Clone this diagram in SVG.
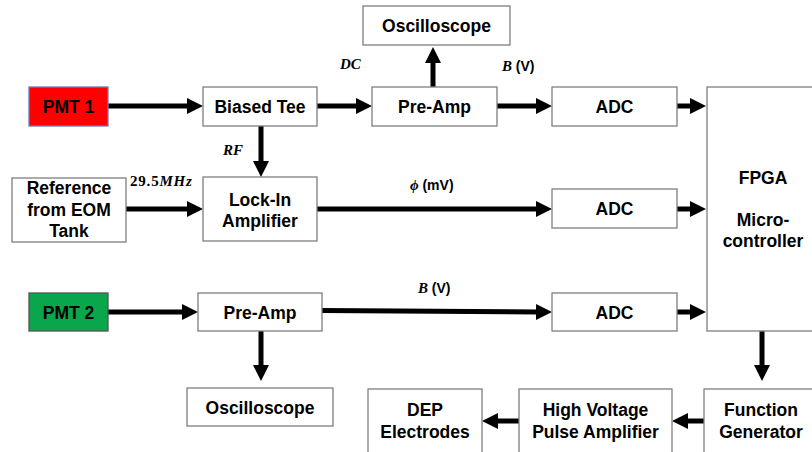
<svg xmlns="http://www.w3.org/2000/svg" width="812" height="452" viewBox="0 0 812 452">
<style>
.box{fill:#fff;stroke:#7f7f7f;stroke-width:1.3}
.t{font-family:"Liberation Sans",Arial,sans-serif;font-weight:bold;font-size:17.5px;fill:#000;text-anchor:middle}
.m{font-family:"Liberation Serif","DejaVu Serif",serif;font-weight:bold;font-style:italic;font-size:15px;fill:#000}
.u{font-family:"Liberation Sans",Arial,sans-serif;font-weight:bold;font-size:14px;fill:#000;font-style:normal}
.c{fill:none;stroke:#000;stroke-width:5;marker-end:url(#ah)}
</style>
<defs>
<marker id="ah" markerUnits="userSpaceOnUse" markerWidth="16" markerHeight="16" refX="2" refY="8" orient="auto" viewBox="0 0 16 16">
<path d="M0,0 L16,8 L0,16 Z" fill="#000"/>
</marker>
</defs>
<rect width="812" height="452" fill="#fff"/>
<g id="connectors">
<line class="c" x1="108" y1="106" x2="189" y2="106"/>
<line class="c" x1="317" y1="106" x2="358" y2="106"/>
<line class="c" x1="433" y1="87" x2="433" y2="61"/>
<line class="c" x1="497" y1="106" x2="538" y2="106"/>
<line class="c" x1="677" y1="106" x2="692" y2="106"/>
<line class="c" x1="261" y1="126" x2="261" y2="163"/>
<line class="c" x1="126" y1="209" x2="189" y2="209"/>
<line class="c" x1="317" y1="209" x2="538" y2="209"/>
<line class="c" x1="677" y1="209" x2="692" y2="209"/>
<line class="c" x1="108" y1="312" x2="184" y2="312"/>
<line class="c" x1="322" y1="310.5" x2="538" y2="312"/>
<line class="c" x1="677" y1="312" x2="692" y2="312"/>
<line class="c" x1="261" y1="331" x2="261" y2="367"/>
<line class="c" x1="762" y1="331" x2="762" y2="367"/>
<line class="c" x1="704" y1="421" x2="686" y2="421"/>
<line class="c" x1="519" y1="421" x2="496" y2="421"/>
</g>
<g id="labels">
<text class="m" x="340" y="69">DC</text>
<text class="m" x="502" y="71">B <tspan class="u">(V)</tspan></text>
<text class="m" x="223" y="155">RF</text>
<text class="m" x="130" y="186" letter-spacing="0.8"><tspan font-style="normal">29.5</tspan>MHz</text>
<text class="m" x="410" y="190">ϕ <tspan class="u">(mV)</tspan></text>
<text class="m" x="418" y="293">B <tspan class="u">(V)</tspan></text>
</g>
<g id="pmt1"><rect x="29" y="87" width="79" height="39" fill="#ff0000" stroke="#6b7bb8" stroke-width="1.3"/><text class="t" x="68.5" y="113">PMT 1</text></g>
<g id="biased-tee"><rect class="box" x="203" y="87" width="114" height="39"/><text class="t" x="260" y="113">Biased Tee</text></g>
<g id="oscilloscope1"><rect class="box" x="363" y="6" width="147" height="39"/><text class="t" x="436.5" y="32">Oscilloscope</text></g>
<g id="preamp1"><rect class="box" x="372" y="87" width="125" height="39"/><text class="t" x="434.5" y="113">Pre-Amp</text></g>
<g id="adc1"><rect class="box" x="552" y="87" width="125" height="39"/><text class="t" x="614.5" y="113">ADC</text></g>
<g id="fpga"><rect class="box" x="707" y="87" width="115" height="244"/><text class="t" x="763" y="183.5">FPGA</text><text class="t" x="763" y="226">Micro-</text><text class="t" x="763" y="247">controller</text></g>
<g id="reference"><rect class="box" x="12" y="178" width="114" height="64"/><text class="t" x="69" y="194">Reference</text><text class="t" x="69" y="216">from EOM</text><text class="t" x="69" y="237">Tank</text></g>
<g id="lockin"><rect class="box" x="203" y="177" width="114" height="64"/><text class="t" x="260" y="205.5">Lock-In</text><text class="t" x="260" y="226.5">Amplifier</text></g>
<g id="adc2"><rect class="box" x="552" y="189" width="125" height="39"/><text class="t" x="614.5" y="215">ADC</text></g>
<g id="pmt2"><rect x="29" y="293" width="79" height="38" fill="#0aa64b" stroke="#555" stroke-width="1.3"/><text class="t" x="68.5" y="318.5">PMT 2</text></g>
<g id="preamp2"><rect class="box" x="198" y="293" width="124" height="38"/><text class="t" x="260" y="318.5">Pre-Amp</text></g>
<g id="adc3"><rect class="box" x="552" y="293" width="125" height="38"/><text class="t" x="614.5" y="318.5">ADC</text></g>
<g id="oscilloscope2"><rect class="box" x="187" y="388" width="146" height="38"/><text class="t" x="260" y="413.5">Oscilloscope</text></g>
<g id="function-generator"><rect class="box" x="704" y="389" width="118" height="70"/><text class="t" x="761" y="416">Function</text><text class="t" x="761" y="438">Generator</text></g>
<g id="hv-amplifier"><rect class="box" x="519" y="389" width="153" height="70"/><text class="t" x="595.5" y="416">High Voltage</text><text class="t" x="595.5" y="438">Pulse Amplifier</text></g>
<g id="dep-electrodes"><rect class="box" x="368" y="389" width="114" height="70"/><text class="t" x="425" y="416">DEP</text><text class="t" x="425" y="438">Electrodes</text></g>
</svg>
